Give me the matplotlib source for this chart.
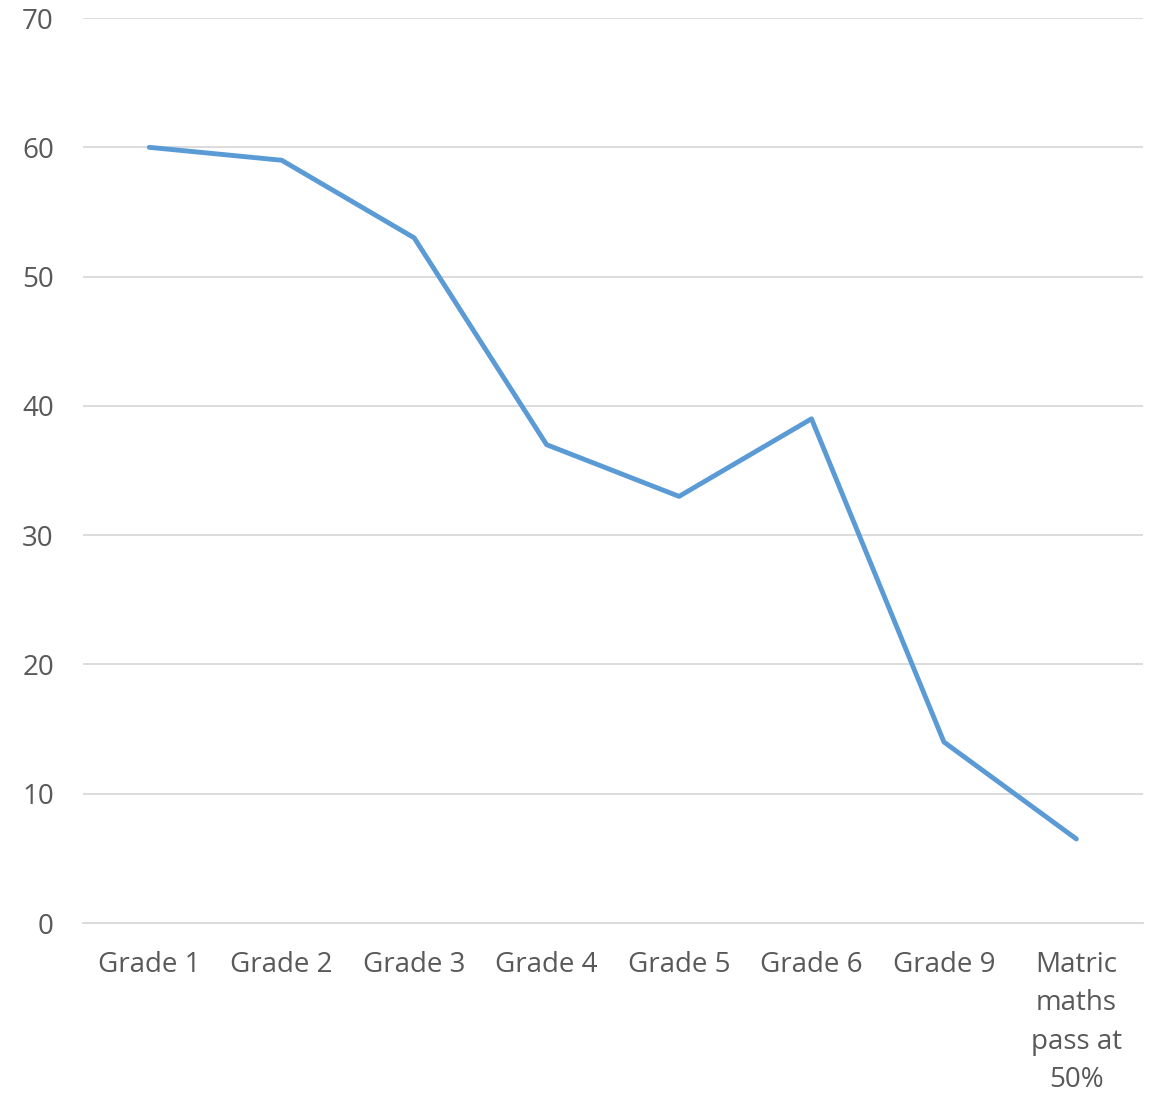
import matplotlib
matplotlib.use("Agg")
import matplotlib.pyplot as plt

categories = ["Grade 1", "Grade 2", "Grade 3", "Grade 4", "Grade 5", "Grade 6", "Grade 9",
              "Matric\nmaths\npass at\n50%"]
values = [60, 59, 53, 37, 33, 39, 14, 6.5]
yticks = [0, 10, 20, 30, 40, 50, 60, 70]

plt.rcParams['font.family'] = ['Open Sans', 'DejaVu Sans']
text_color = "#595959"
grid_color = "#D9D9D9"

fig = plt.figure(figsize=(11.6, 10.94), dpi=100)
ax = fig.add_axes([0.0716, 0.1563, 0.9134, 0.8272])
x = list(range(len(categories)))
ax.plot(x, values, color="#5B9BD5", linewidth=3.5, solid_capstyle="round", solid_joinstyle="round", zorder=3)

ax.set_xlim(-0.5, len(categories) - 0.5)
ax.set_ylim(0, 70)
ax.set_yticks(yticks)
ax.set_yticklabels([str(v) for v in yticks])
ax.set_xticks(x)
ax.set_xticklabels(categories, linespacing=1.5)
ax.grid(axis="y", color=grid_color, linewidth=1.3, zorder=0)
ax.set_axisbelow(True)
for s in ["top", "right", "left"]:
    ax.spines[s].set_visible(False)
ax.spines["bottom"].set_color(grid_color)
ax.spines["bottom"].set_linewidth(1.3)
ax.tick_params(axis="both", length=0, labelsize=20, colors=text_color)
ax.tick_params(axis="y", pad=21)
ax.tick_params(axis="x", pad=20)
for lab in ax.get_yticklabels():
    lab.set_horizontalalignment("right")

fig.savefig("out.png", dpi=100, facecolor="white")
